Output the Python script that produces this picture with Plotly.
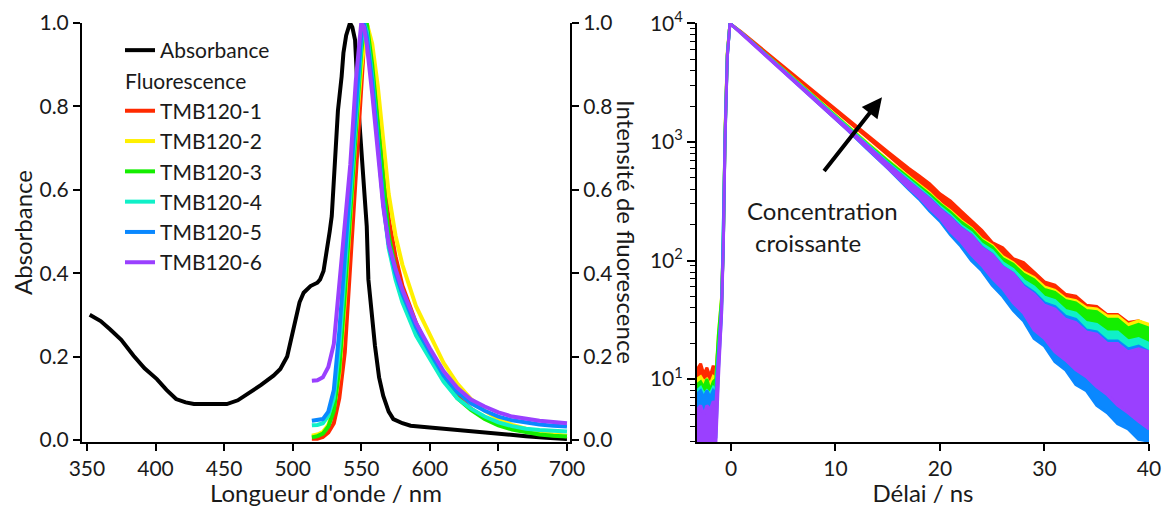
import plotly.graph_objects as go

FONT = "Lato"
# The page body has an 8 px margin, so the figure is sized to fit the 1175x507 window.
OFF = 8
W, H = 1175 - OFF, 507 - OFF


def fx(px):  # window x pixel -> paper fraction
    return (px - OFF) / W


def fy(py):  # window y pixel -> paper fraction
    return 1 - (py - OFF) / H


# ---------------- Left panel data ----------------
abs_wl = [352, 360, 367, 375, 384, 392, 401, 408, 415, 422, 428, 440, 452, 460, 469, 477, 486, 491, 496,
          500, 505, 508, 513, 518, 520, 522.5, 524.8, 527, 528.5, 531, 533, 535.7, 537, 539, 541.8, 543.5,
          545.5, 548, 551.5, 554, 555.2, 558, 560, 563, 566, 570, 573.4, 580, 586, 600, 615, 630, 649,
          670, 685, 700]
abs_val = [0.300, 0.285, 0.265, 0.240, 0.202, 0.172, 0.146, 0.120, 0.098, 0.090, 0.086, 0.085, 0.086,
           0.095, 0.114, 0.132, 0.154, 0.170, 0.200, 0.262, 0.330, 0.353, 0.369, 0.377, 0.385, 0.405,
           0.449, 0.500, 0.537, 0.672, 0.790, 0.872, 0.928, 0.970, 1.000, 0.990, 0.959, 0.792, 0.632,
           0.513, 0.385, 0.290, 0.226, 0.150, 0.106, 0.068, 0.050, 0.040, 0.034, 0.030, 0.025, 0.020,
           0.014, 0.009, 0.005, 0.002]

fl_wl = [514, 518, 522, 526, 530, 534, 538, 542, 546, 550, 552, 554, 558, 562, 566, 570, 575, 580, 590,
         600, 610, 620, 630, 640, 650, 660, 670, 680, 690, 700]
fl_1 = [.003, .003, .007, .018, .04, .10, .21, .42, .65, .86, .95, 1.0, .92, .78, .64, .53, .44, .37, .28,
        .21, .15, .105, .075, .053, .038, .027, .02, .015, .011, .009]
fl_2 = [.010, .013, .019, .036, .075, .16, .33, .53, .73, .89, .95, 1.0, .95, .85, .72, .59, .49, .42, .32,
        .25, .185, .135, .098, .07, .05, .036, .026, .018, .013, .01]
fl_3 = [.006, .009, .015, .032, .07, .17, .35, .55, .76, .93, .99, 1.0, .90, .76, .61, .49, .41, .35, .26,
        .20, .145, .10, .072, .05, .035, .025, .018, .013, .01, .008]
fl_4 = [.035, .036, .040, .058, .10, .22, .40, .59, .79, .95, 1.0, .98, .87, .72, .57, .46, .385, .33, .25,
        .195, .14, .10, .075, .056, .042, .033, .027, .024, .022, .02]
fl_5 = [.046, .047, .050, .068, .12, .26, .44, .62, .82, .97, 1.0, .97, .86, .72, .57, .47, .40, .35, .27,
        .21, .155, .115, .088, .07, .056, .047, .041, .037, .034, .032]
fl_6 = [.142, .143, .150, .175, .23, .37, .50, .66, .86, 1.0, .99, .95, .83, .70, .56, .47, .41, .36, .28,
        .22, .165, .125, .097, .08, .066, .056, .05, .046, .043, .04]

# ---------------- Right panel data (upper / lower edge of each noisy decay, counts) ----------------
t_dec = [-3.25, -2.9, -2.6, -2.3, -2.0, -1.7, -1.45, -1.2, -0.9, -0.73, -0.57, -0.35, -0.1,
         1, 3, 5, 7, 9, 11, 13, 15,
         17, 18, 19, 20, 21, 22, 23, 24, 25, 26, 27, 28, 29, 30, 31, 32, 33, 34, 35, 36, 37, 38, 39, 40]
d1_hi = [12, 13.5, 11, 12.5, 10.5, 13, 11, 22, 45, 145, 1100, 5500, 10000,
         8450, 6050, 4350, 3100, 2230, 1600, 1150, 830,
         600, 520, 445, 365, 318, 262, 215, 180, 142, 128, 104, 96, 80, 66, 62, 52, 50, 42, 41, 35, 35, 30, 31, 28]
d1_lo = [8, 8.5, 7.5, 8, 7.5, 8.5, 8, 18, 42, 140, 1100, 5500, 10000,
         8350, 5950, 4250, 3000, 2170, 1560, 1100, 780,
         555, 460, 385, 330, 268, 225, 176, 145, 110, 95, 76, 64, 55, 47, 41, 36, 32, 28, 25, 23, 21, 19, 18, 17]
d2_hi = [10, 10.5, 9.5, 10, 9, 10.5, 10, 24, 50, 165, 1250, 5800, 10000,
         8350, 5830, 4080, 2850, 1990, 1400, 990, 705,
         510, 440, 372, 305, 262, 218, 188, 152, 134, 108, 96, 80, 72, 60, 56, 48, 46, 40, 39, 34, 34, 29, 31, 29]
d2_lo = [7.5, 8, 7, 7.5, 7, 8, 7.5, 19, 45, 155, 1200, 5700, 10000,
         8300, 5780, 4040, 2810, 1950, 1370, 940, 655,
         455, 380, 310, 262, 208, 172, 138, 112, 92, 76, 62, 52, 43, 37, 32, 27, 24, 20, 18, 16.5, 15, 13.5, 13, 12]
d3_hi = [9, 9.5, 8.5, 10, 8, 9.5, 10, 24, 48, 150, 1150, 5500, 10000,
         8330, 5820, 4070, 2830, 1970, 1380, 975, 692,
         497, 425, 362, 300, 256, 212, 184, 148, 130, 104, 93, 77, 69, 57, 54, 46, 44, 38, 37, 32, 32, 27, 29, 27]
d3_lo = [6, 6.5, 6, 6.5, 5.5, 6.5, 7, 19, 44, 140, 1100, 5400, 10000,
         8280, 5780, 4030, 2790, 1930, 1340, 930, 645,
         445, 372, 303, 255, 203, 167, 133, 108, 89, 72, 59, 49, 40, 35, 30, 25, 22, 19, 17, 16, 15, 14, 14, 14]
d4_hi = [8, 8.5, 7.5, 8, 7.5, 8.5, 8, 18, 42, 140, 1100, 5400, 10000,
         8310, 5800, 4030, 2800, 1940, 1355, 950, 670,
         480, 408, 345, 284, 242, 198, 172, 138, 121, 96, 84, 68, 60, 49, 46, 38, 36, 30, 29, 25, 25, 21, 22, 20]
d4_lo = [4.5, 5, 4.5, 5, 4.5, 5, 5, 15, 38, 135, 1050, 5300, 10000,
         8280, 5760, 3990, 2760, 1900, 1320, 900, 625,
         425, 352, 285, 236, 186, 150, 120, 96, 78, 62, 51, 40, 32, 28, 23, 18, 16, 13, 11, 9.5, 8, 6.8, 6, 5]
d5_hi = [7.5, 8, 7, 8, 7, 8, 7.5, 16, 40, 135, 1050, 5300, 10000,
         8300, 5780, 4000, 2770, 1910, 1330, 935, 655,
         465, 396, 335, 274, 232, 190, 164, 130, 113, 89, 78, 62, 54, 44, 41, 34, 32, 26, 25, 21, 21, 18, 19, 17]
d5_lo = [3, 3, 3, 3, 3, 3, 3.2, 12, 35, 130, 1000, 5200, 10000,
         8270, 5730, 3960, 2730, 1880, 1300, 880, 600,
         400, 330, 262, 215, 165, 132, 100, 82, 62, 50, 38, 31, 22, 19, 14, 12, 9, 8, 6, 5.2, 4.2, 3.8, 3.1, 3.0]
d6_hi = [5.5, 6, 5, 6, 5.5, 6.5, 6, 14, 40, 135, 1050, 5300, 10000,
         8300, 5770, 4000, 2760, 1910, 1330, 930, 650,
         460, 390, 330, 270, 229, 187, 163, 128, 112, 88, 78, 60, 52, 42, 39, 32, 30, 25, 24, 20, 20, 17, 18, 17]
d6_lo = [2.8, 2.8, 2.8, 2.8, 2.8, 2.8, 2.8, 10, 36, 130, 1000, 5200, 10000,
         8270, 5730, 3960, 2730, 1880, 1300, 890, 610,
         410, 342, 275, 228, 176, 144, 112, 91, 71, 58, 44, 36, 26, 22, 17, 14.5, 12, 10.5, 8.6, 7.4, 6, 5.2, 4.4, 3.8]

names = ["TMB120-1", "TMB120-2", "TMB120-3", "TMB120-4", "TMB120-5", "TMB120-6"]
colors = ["#ff2a00", "#fff000", "#14ee00", "#10f0c8", "#0a88ff", "#9a40ff"]
fl_series = [fl_1, fl_2, fl_3, fl_4, fl_5, fl_6]
dec_hi = [d1_hi, d2_hi, d3_hi, d4_hi, d5_hi, d6_hi]
dec_lo = [d1_lo, d2_lo, d3_lo, d4_lo, d5_lo, d6_lo]

left_ticks = [0.0, 0.2, 0.4, 0.6, 0.8, 1.0]
x_ticks = [350, 400, 450, 500, 550, 600, 650, 700]
dec_xticks = [0, 10, 20, 30, 40]
dec_yticks = [10, 100, 1000, 10000]
dec_yticktext = ["10<sup>1</sup>", "10<sup>2</sup>", "10<sup>3</sup>", "10<sup>4</sup>"]
dec_minor = [3, 4, 5, 6, 7, 8, 9, 20, 30, 40, 50, 60, 70, 80, 90,
             200, 300, 400, 500, 600, 700, 800, 900, 2000, 3000, 4000, 5000, 6000, 7000, 8000, 9000]

TXT = 24
LEG = 21
TICK = 21
TXTCOL = "#1a1a1a"

fig = go.Figure()

fig.add_trace(go.Scatter(x=abs_wl, y=abs_val, mode="lines", name="Absorbance",
                         line=dict(color="black", width=4), legendgroup="abs",
                         xaxis="x", yaxis="y"))
for i in range(6):
    tr = dict(x=fl_wl, y=fl_series[i], mode="lines", name=names[i],
              line=dict(color=colors[i], width=4), legendgroup="fl",
              xaxis="x", yaxis="y2")
    if i == 0:
        tr["legendgrouptitle"] = dict(text="Fluorescence", font=dict(size=LEG, family=FONT, color=TXTCOL))
    fig.add_trace(go.Scatter(**tr))

for i in range(6):
    xs = t_dec + t_dec[::-1]
    ys = dec_hi[i] + dec_lo[i][::-1]
    fig.add_trace(go.Scatter(x=xs, y=ys, mode="lines", fill="toself", fillcolor=colors[i],
                             line=dict(color=colors[i], width=3), showlegend=False,
                             hoverinfo="skip", xaxis="x2", yaxis="y3"))

axis_common = dict(showline=True, linecolor="black", linewidth=2, ticks="outside", ticklen=7,
                   tickwidth=1.6, tickcolor="black", showgrid=False, zeroline=False, automargin=False,
                   ticklabeloverflow="allow",
                   tickfont=dict(family=FONT, size=TICK, color=TXTCOL))

L0, L1 = fx(82), fx(570)
R0, R1 = fx(697), fx(1149)
B, T = fy(442), fy(23)

fig.update_layout(
    width=W, height=H, margin=dict(l=0, r=0, t=0, b=0, autoexpand=False),
    paper_bgcolor="white", plot_bgcolor="white",
    font=dict(family=FONT, size=TICK, color=TXTCOL),
    showlegend=True,
    legend=dict(x=fx(120), y=fy(30), xanchor="left", yanchor="top", bgcolor="rgba(0,0,0,0)",
                font=dict(family=FONT, size=LEG, color=TXTCOL), tracegroupgap=0,
                traceorder="grouped"),
    xaxis=dict(domain=[L0, L1], range=[346.4, 702.2], tickvals=x_ticks, anchor="y",
               title=dict(text="Longueur d'onde / nm", font=dict(family=FONT, size=TXT), standoff=2),
               **axis_common),
    yaxis=dict(domain=[B, T], range=[-0.005, 1.0], tickvals=left_ticks, tickformat=".1f", anchor="x",
               title=dict(text="Absorbance", font=dict(family=FONT, size=TXT), standoff=6),
               **axis_common),
    yaxis2=dict(domain=[B, T], range=[-0.005, 1.0], tickvals=left_ticks, tickformat=".1f",
                overlaying="y", side="right", anchor="x", **axis_common),
    xaxis2=dict(domain=[R0, R1], range=[-3.25, 40], tickvals=dec_xticks, anchor="y3",
                title=dict(text="Délai / ns", font=dict(family=FONT, size=TXT), standoff=2),
                **axis_common),
    yaxis3=dict(domain=[B, T], type="log", range=[0.47, 4.003], tickvals=dec_yticks,
                ticktext=dec_yticktext, anchor="x2",
                minor=dict(tickvals=dec_minor, ticks="outside", ticklen=5, tickwidth=1.4,
                           tickcolor="black"),
                **{**axis_common, "ticklen": 8}),
)

fig.add_annotation(text="Intensité de fluorescence", xref="paper", yref="paper",
                   x=fx(627), y=fy(232), textangle=90, showarrow=False,
                   font=dict(family=FONT, size=TXT, color=TXTCOL))
fig.add_annotation(text="Concentration", xref="x2", yref="y3", x=1.34, y=2.422,
                   xanchor="left", yanchor="middle", showarrow=False,
                   font=dict(family=FONT, size=TXT, color=TXTCOL))
fig.add_annotation(text="croissante", xref="x2", yref="y3", x=2.1, y=2.152,
                   xanchor="left", yanchor="middle", showarrow=False,
                   font=dict(family=FONT, size=TXT, color=TXTCOL))
fig.add_annotation(x=14.45, y=3.376, ax=8.8, ay=2.743, xref="x2", yref="y3", axref="x2", ayref="y3",
                   text="", showarrow=True, arrowhead=2, arrowsize=1, arrowwidth=4, arrowcolor="black")

fig.write_html("out.html")
